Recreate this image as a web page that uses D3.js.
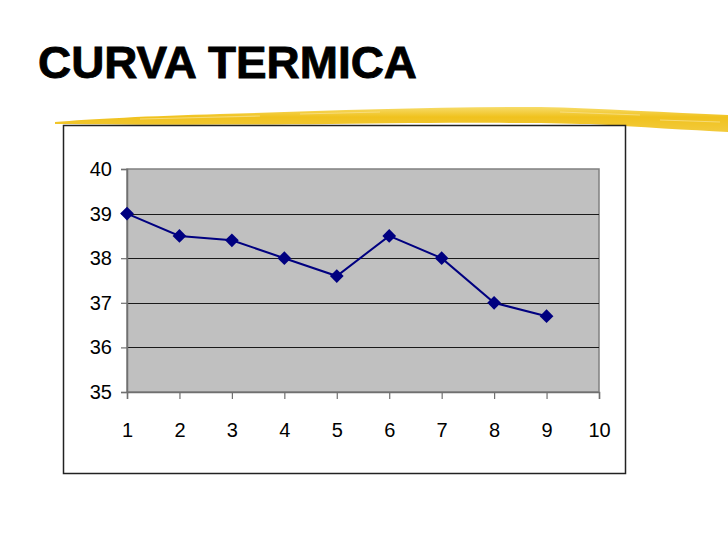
<!DOCTYPE html>
<html>
<head>
<meta charset="utf-8">
<script src="https://cdn.jsdelivr.net/npm/d3@7"></script>
<style>
  body{margin:0;background:#fff}
  svg text{font-family:"Liberation Sans",Arial,sans-serif}
</style>
</head>
<body>
<script>
var titleText="CURVA TERMICA"
var days=[1,2,3,4,5,6,7,8,9]
var temps=[39,38.5,38.4,38,37.6,38.5,38,37,36.7]
var xTicks=[1,2,3,4,5,6,7,8,9,10]
var yTicks=[35,36,37,38,39,40]

var screen={width:728,height:546}
var plot={left:127,top:169,right:599,bottom:392}

var svg=d3.select("body").append("svg")
          .attr("width",screen.width)
          .attr("height",screen.height)

// yellow brush stroke under the title
var defs=svg.append("defs")
var grad=defs.append("linearGradient").attr("id","brush")
   .attr("x1","0").attr("y1","0").attr("x2","0").attr("y2","1")
grad.append("stop").attr("offset","0%").attr("stop-color","#f7dc6a")
grad.append("stop").attr("offset","40%").attr("stop-color","#f0c21e")
grad.append("stop").attr("offset","100%").attr("stop-color","#f2ca3c")
svg.append("path")
   .attr("d","M55,122 C90,119 150,116 220,114 C320,111 420,107 540,107 C600,108 670,113 728,115 L728,132 C690,130 640,127 590,124 C520,122 420,123 330,124 C240,125 140,125 55,124 Z")
   .attr("fill","url(#brush)")
// a few paler streaks for the brush texture
svg.append("path")
   .attr("d","M140,119 L260,116 M300,114 L380,112 M560,112 L640,115 M660,120 L720,122")
   .attr("fill","none").attr("stroke","#f8e08a").attr("stroke-width",1.2).attr("opacity",0.8)

svg.append("text")
   .attr("x",38).attr("y",78)
   .attr("font-size",44).attr("font-weight","bold")
   .attr("stroke","#000").attr("stroke-width",0.8)
   .attr("textLength",379).attr("lengthAdjust","spacingAndGlyphs")
   .text(titleText)

// chart frame
svg.append("rect")
   .attr("x",63.5).attr("y",125.5).attr("width",562).attr("height",348)
   .attr("fill","#fff").attr("stroke","#222").attr("stroke-width",1.5)

var xScale=d3.scaleLinear().domain([1,10]).range([plot.left,plot.right])
var yScale=d3.scaleLinear().domain([35,40]).range([plot.bottom,plot.top])

svg.append("rect")
   .attr("x",plot.left).attr("y",plot.top)
   .attr("width",plot.right-plot.left).attr("height",plot.bottom-plot.top)
   .attr("fill","#c0c0c0").attr("stroke","#808080").attr("stroke-width",1.5)

// gridlines
svg.append("g").selectAll("line")
   .data(yTicks.filter(function(d){return d>35&&d<40}))
   .enter().append("line")
   .attr("x1",plot.left).attr("x2",plot.right)
   .attr("y1",function(d){return Math.round(yScale(d))+0.5})
   .attr("y2",function(d){return Math.round(yScale(d))+0.5})
   .attr("stroke","#1a1a1a").attr("stroke-width",1.2)

// axes
var yAxis=d3.axisLeft(yScale).tickValues(yTicks).tickFormat(d3.format("d")).tickSize(6).tickPadding(9)
var xAxis=d3.axisBottom(xScale).tickValues(xTicks).tickFormat(d3.format("d")).tickSize(7).tickPadding(24)
var gy=svg.append("g").attr("transform","translate("+plot.left+",0)").call(yAxis)
var gx=svg.append("g").attr("transform","translate(0,"+plot.bottom+")").call(xAxis)
;[gx,gy].forEach(function(g){
  g.attr("font-size",null).attr("font-family",null)
  g.select(".domain").attr("stroke","#707070").attr("stroke-width",1.5)
  g.selectAll(".tick line").attr("stroke","#707070").attr("stroke-width",1.2)
  g.selectAll(".tick text").style("font-size","20px").attr("fill","#000")
})

// series
var pts=days.map(function(d,i){return {x:d,y:temps[i]}})
var drawLine=d3.line()
   .x(function(d){return xScale(d.x)})
   .y(function(d){return yScale(d.y)})
svg.append("path").datum(pts)
   .attr("d",drawLine)
   .attr("fill","none").attr("stroke","#000080").attr("stroke-width",2)
svg.append("g").selectAll("path")
   .data(pts).enter().append("path")
   .attr("d",d3.symbol().type(d3.symbolDiamond2).size(120))
   .attr("transform",function(d){return "translate("+xScale(d.x)+","+yScale(d.y)+")"})
   .attr("fill","#000080")
</script>
</body>
</html>
